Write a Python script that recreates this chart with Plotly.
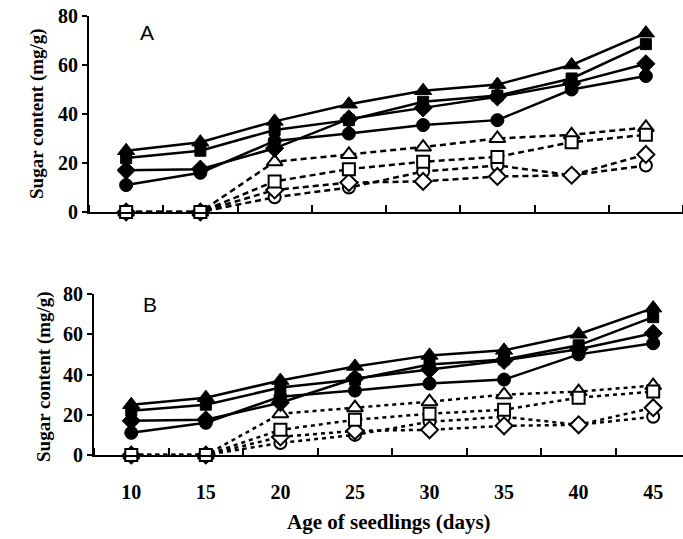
import plotly.graph_objects as go

days = [10, 15, 20, 25, 30, 35, 40, 45]
tick_labels = ["10", "15", "20", "25", "30", "35", "40", "45"]

filled_triangle = [25, 28.5, 37, 44, 49.5, 52, 60, 73]
filled_square = [22, 25, 33.5, 37.5, 45, 47.5, 54.5, 68.5]
filled_diamond = [17, 17.5, 26, 38, 42.5, 47, 52.5, 60.5]
filled_circle = [11, 16, 29, 32, 35.5, 37.5, 50, 55.5]

open_triangle = [0, 0, 20.5, 23.5, 26.5, 30, 31.5, 34.5]
open_square = [0, 0, 12.5, 17.5, 20.5, 22.5, 28.5, 31.5]
open_diamond = [0, 0, 9, 12, 12.5, 14.5, 15, 23.5]
open_circle = [0, 0, 6, 10, 16.5, 19, 15, 19]

W, H = 683, 539
SERIF = "Liberation Serif"

fig = go.Figure()

open_series = [
    (open_circle, "circle", 12),
    (open_diamond, "diamond", 13),
    (open_triangle, "triangle-up", 14),
    (open_square, "square", 12),
]
filled_series = [
    (filled_circle, "circle", 13),
    (filled_diamond, "diamond", 14),
    (filled_square, "square", 11),
    (filled_triangle, "triangle-up", 15),
]

for xa, ya, dash in [("x", "y", "6px,4px"), ("x2", "y2", "4px,4px")]:
    for vals, sym, sz in open_series:
        fig.add_trace(go.Scatter(
            x=days, y=vals, xaxis=xa, yaxis=ya, mode="lines+markers",
            line=dict(color="black", width=2.5, dash=dash),
            marker=dict(symbol=sym, size=sz, color="white",
                        line=dict(color="black", width=2)),
            cliponaxis=False, showlegend=False))
    for vals, sym, sz in filled_series:
        fig.add_trace(go.Scatter(
            x=days, y=vals, xaxis=xa, yaxis=ya, mode="lines+markers",
            line=dict(color="black", width=2.5),
            marker=dict(symbol=sym, size=sz, color="black",
                        line=dict(color="black", width=1)),
            cliponaxis=False, showlegend=False))

def xaxis_cfg(x0px, rng, labels):
    return dict(
        domain=[x0px / W, 1], range=rng, showline=True, linecolor="black",
        linewidth=2, showgrid=False, zeroline=False, automargin=False,
        tickmode="array", tickvals=days, ticktext=tick_labels,
        ticks="", showticklabels=labels, ticklabelstandoff=18,
        tickfont=dict(family=SERIF, size=20, color="black", weight="bold"),
        minor=dict(tick0=7.5, dtick=5, ticks="inside", ticklen=7,
                   tickwidth=2, tickcolor="black", showgrid=False),
    )

def yaxis_cfg(top_px, bot_px):
    return dict(
        domain=[(H - bot_px) / H, (H - top_px) / H], range=[0, 80],
        showline=True, linecolor="black", linewidth=2, showgrid=False,
        zeroline=False, tickvals=[0, 20, 40, 60, 80], ticks="outside",
        ticklen=5, tickwidth=2, tickcolor="black", automargin=False,
        tickfont=dict(family=SERIF, size=20, color="black", weight="bold"),
    )

fig.update_layout(
    width=W, height=H, margin=dict(l=0, r=0, t=0, b=0, autoexpand=False),
    plot_bgcolor="white", paper_bgcolor="white",
    xaxis=dict(xaxis_cfg(89, [7.5, 47.5], False), anchor="y"),
    yaxis=dict(yaxis_cfg(16, 212), anchor="x"),
    xaxis2=dict(xaxis_cfg(94, [7.5, 47.0], True), anchor="y2"),
    yaxis2=dict(yaxis_cfg(294, 455), anchor="x2"),
)

ann_font = dict(family=SERIF, size=19, color="black", weight="bold")
common = dict(xref="paper", yref="paper", showarrow=False,
              xanchor="center", yanchor="middle")
fig.add_annotation(text="Sugar content (mg/g)", textangle=-90,
                   x=37 / W, y=1 - 114 / H, font=ann_font, **common)
fig.add_annotation(text="Sugar content (mg/g)", textangle=-90,
                   x=44 / W, y=1 - 377 / H, font=ann_font, **common)
fig.add_annotation(text="Age of seedlings (days)",
                   x=(94 + 683) / 2 / W, y=1 - 522 / H,
                   font=dict(family=SERIF, size=21, color="black", weight="bold"), **common)
fig.add_annotation(text="A", x=147 / W, y=1 - 33 / H,
                   font=dict(family="Liberation Sans", size=21, color="black"), **common)
fig.add_annotation(text="B", x=150 / W, y=1 - 304 / H,
                   font=dict(family="Liberation Sans", size=21, color="black"), **common)

fig.write_html("out.html", config={"displayModeBar": False},
               post_script="document.body.style.margin='0';")
